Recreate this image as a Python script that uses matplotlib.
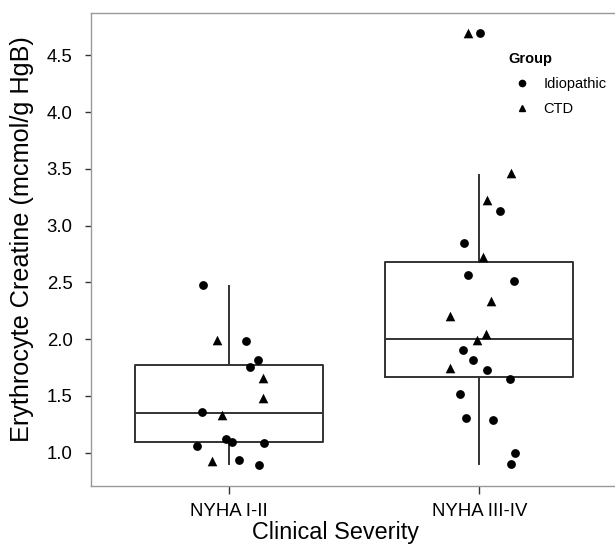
import matplotlib
matplotlib.use("Agg")
import matplotlib.pyplot as plt
from matplotlib.lines import Line2D
import numpy as np

plt.rcParams['font.family'] = ['Liberation Sans', 'DejaVu Sans']

categories = ["NYHA I-II", "NYHA III-IV"]

# box summary per category
q1 = [1.09, 1.67]
med = [1.35, 2.00]
q3 = [1.77, 2.68]
whislo = [0.895, 0.90]
whishi = [2.47, 3.45]

# jittered points: category index, jitter offset, value, group
pt_cat = [0] * 16 + [1] * 23
pt_jit = [-0.103, -0.047, 0.069, 0.115, 0.086, 0.135, 0.137, -0.107,
          -0.027, -0.011, 0.015, 0.142, -0.125, -0.066, 0.041, 0.119,
          0.127, 0.031, 0.081, -0.061, 0.015, -0.044, 0.136, 0.045,
          -0.116, 0.028, -0.009, -0.067, -0.027, -0.119, 0.031, 0.120,
          -0.079, -0.053, 0.055, 0.141, 0.127, -0.047, 0.001]
pt_val = [2.474, 1.989, 1.980, 1.813, 1.753, 1.660, 1.483, 1.360,
          1.327, 1.122, 1.089, 1.086, 1.056, 0.921, 0.936, 0.894,
          3.466, 3.225, 3.128, 2.848, 2.724, 2.569, 2.516, 2.333,
          2.201, 2.042, 1.989, 1.901, 1.813, 1.745, 1.730, 1.651,
          1.512, 1.307, 1.283, 0.994, 0.901, 4.696, 4.696]
pt_grp = ["I", "C", "I", "I", "I", "C", "C", "I",
          "C", "I", "I", "I", "I", "C", "I", "I",
          "C", "C", "I", "I", "C", "I", "I", "C",
          "C", "C", "C", "I", "I", "C", "I", "I",
          "I", "I", "I", "I", "I", "C", "I"]

fig = plt.figure(figsize=(6.15, 5.45), dpi=100)
ax = fig.add_axes([0.148, 0.1083, 0.853, 0.8684])

stats = []
for i in range(len(categories)):
    stats.append(dict(med=med[i], q1=q1[i], q3=q3[i],
                      whislo=whislo[i], whishi=whishi[i], fliers=[]))

lc = "#333333"
ax.bxp(stats, positions=[1, 2], widths=0.75, showcaps=False,
       boxprops=dict(color=lc, linewidth=1.4),
       whiskerprops=dict(color=lc, linewidth=1.4),
       medianprops=dict(color=lc, linewidth=1.4))

x = np.array(pt_cat) + 1 + np.array(pt_jit)
y = np.array(pt_val)
grp = np.array(pt_grp)
ax.scatter(x[grp == "I"], y[grp == "I"], marker="o", s=40, color="black",
           linewidths=0, zorder=3)
ax.scatter(x[grp == "C"], y[grp == "C"], marker="^", s=48, color="black",
           linewidths=0, zorder=3)

ax.set_xlim(0.451, 2.543)
ax.set_ylim(0.705, 4.877)
ax.set_xticks([1, 2])
ax.set_xticklabels(categories, fontsize=13.4)
ax.set_yticks(np.arange(1.0, 4.51, 0.5))
ax.set_yticklabels([f"{v:.1f}" for v in np.arange(1.0, 4.51, 0.5)], fontsize=13.4)
ax.tick_params(axis="y", length=4.3, width=1, color="#333333", pad=9)
ax.tick_params(axis="x", length=6, width=1, color="#333333", pad=6.5)

for s in ["left", "top", "bottom"]:
    ax.spines[s].set_color("#999999")
    ax.spines[s].set_linewidth(1)
ax.spines["right"].set_visible(False)

ax.set_xlabel("Clinical Severity", fontsize=16.8)
ax.xaxis.set_label_coords(0.466, -0.074)
ax.set_ylabel("Erythrocyte Creatine (mcmol/g HgB)", fontsize=18.2)
ax.yaxis.set_label_coords(-0.108, 0.521)

handles = [Line2D([], [], marker="o", ls="", color="black", markersize=4.5),
           Line2D([], [], marker="^", ls="", color="black", markersize=5)]
leg = ax.legend(handles, ["Idiopathic", "CTD"], title="Group", frameon=False,
                loc="upper left", bbox_to_anchor=(0.771, 0.945),
                fontsize=10.5, title_fontproperties=dict(weight="bold", size=10.5),
                handlelength=1.8, handletextpad=0.6, labelspacing=0.75,
                alignment="left")

fig.savefig("out.png", dpi=100)
